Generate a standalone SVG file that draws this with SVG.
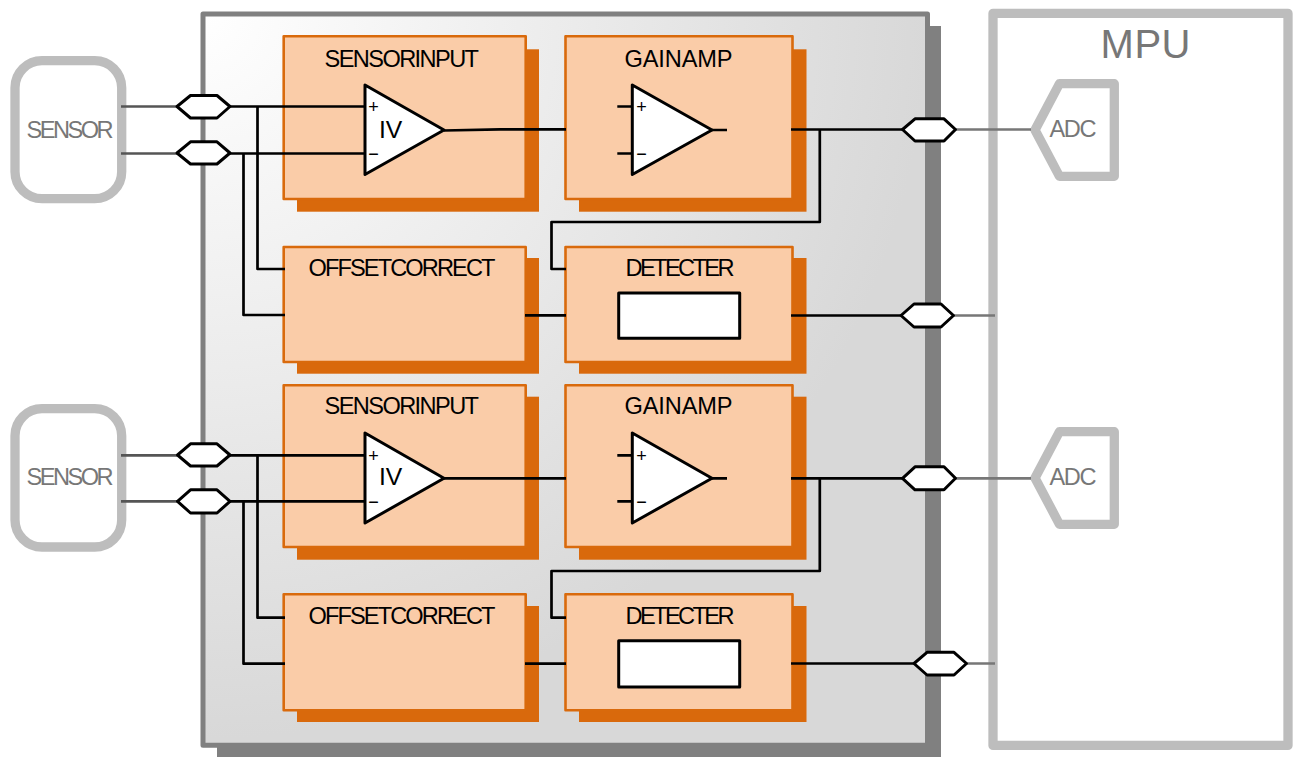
<svg xmlns="http://www.w3.org/2000/svg" width="1301" height="768" viewBox="0 0 1301 768">
<style>
text{font-family:"Liberation Sans",Arial,sans-serif;font-size:23.6px;fill:#000;text-anchor:start}
.g{fill:#777}
.big{font-size:40px;fill:#777}
.iv{font-size:24.7px}
.sign{font-size:18px;text-anchor:middle}
.blk{fill:#FACCA8;stroke:#D96A0C;stroke-width:2.6;stroke-linejoin:round}
.sh{fill:#D9690C}
.gb{fill:none;stroke:#BDBDBD;stroke-width:9.300;stroke-linejoin:round}
.w{fill:none;stroke:#000;stroke-width:2.700;stroke-linejoin:round}
.gw{fill:none;stroke:#777;stroke-width:2.700}
.dw{fill:none;stroke:#555;stroke-width:2.700}
.sym{fill:#fff;stroke:#000;stroke-width:3;stroke-linejoin:round}
</style>
<defs>
<radialGradient id="bg" gradientUnits="userSpaceOnUse" cx="203" cy="14" r="725">
<stop offset="0" stop-color="#ffffff"/><stop offset="1" stop-color="#D8D8D8"/>
</radialGradient>
</defs>

<g id="chip">
<rect x="217" y="26" width="724" height="731" fill="#808080"/>
<rect x="203" y="14" width="724.5" height="731.3" fill="url(#bg)" stroke="#808080" stroke-width="5" stroke-linejoin="round"/>
</g>

<g id="mpu">
<rect class="gb" x="993" y="13.400" width="295" height="732"/>
<text class="big" x="1100.500" y="57.500" textLength="90">MPU</text>
</g>

<g id="sensor1">
<rect class="gb" x="15" y="60.700" width="106.700" height="138" rx="27"/>
<text class="g" x="26.500" y="137.500" textLength="87">SENSOR</text>
</g>
<g id="sensor2">
<rect class="gb" x="15" y="408.700" width="106.700" height="138.300" rx="27"/>
<text class="g" x="26.500" y="484.500" textLength="87">SENSOR</text>
</g>

<g id="adc1">
<path class="gb" d="M1114.300 83.700H1059.500L1035 130L1059.500 176.300H1114.300Z"/>
<text class="g" x="1049.500" y="137.300" textLength="47">ADC</text>
</g>
<g id="adc2">
<path class="gb" d="M1114.300 431.700H1059.500L1035 478L1059.500 524.300H1114.300Z"/>
<text class="g" x="1049.500" y="484.500" textLength="47">ADC</text>
</g>

<g id="sensor-input1">
<rect class="sh" x="297" y="49.300" width="242" height="162.400"/>
<rect class="blk" x="283.700" y="36.200" width="242" height="162.800"/>
<text x="324.500" y="67.300" textLength="154.500">SENSORINPUT</text>
</g>
<g id="gain-amp1">
<rect class="sh" x="579" y="49.300" width="227.500" height="162.400"/>
<rect class="blk" x="565.500" y="36.200" width="227" height="162.800"/>
<text x="624.500" y="67.300" textLength="108">GAINAMP</text>
</g>
<g id="offset1">
<rect class="sh" x="297" y="258" width="242" height="115.700"/>
<rect class="blk" x="283.700" y="247" width="242" height="115"/>
<text x="308.500" y="275.500" textLength="187">OFFSETCORRECT</text>
</g>
<g id="detecter1">
<rect class="sh" x="579" y="258" width="227.500" height="115.700"/>
<rect class="blk" x="565.500" y="247" width="227" height="115"/>
<text x="625.500" y="275.500" textLength="109">DETECTER</text>
<rect class="sym" x="618.700" y="292.900" width="121" height="45.300"/>
</g>

<g id="sensor-input2">
<rect class="sh" x="297" y="396.700" width="242" height="163"/>
<rect class="blk" x="283.700" y="385.300" width="242" height="161.700"/>
<text x="324.500" y="414.300" textLength="154.500">SENSORINPUT</text>
</g>
<g id="gain-amp2">
<rect class="sh" x="579" y="396.700" width="227.500" height="163"/>
<rect class="blk" x="565.500" y="385.300" width="227" height="161.700"/>
<text x="624.500" y="414.300" textLength="108">GAINAMP</text>
</g>
<g id="offset2">
<rect class="sh" x="297" y="606" width="242" height="116"/>
<rect class="blk" x="283.700" y="594.300" width="242" height="116"/>
<text x="308.500" y="623.500" textLength="187">OFFSETCORRECT</text>
</g>
<g id="detecter2">
<rect class="sh" x="579" y="606" width="227.500" height="116"/>
<rect class="blk" x="565.500" y="594.300" width="227" height="116"/>
<text x="625.500" y="623.500" textLength="109">DETECTER</text>
<rect class="sym" x="618.700" y="640.700" width="121" height="46.300"/>
</g>

<g id="connectors">
<path class="dw" d="M121 106.500H177M121 153.500H177M121 455.300H177M121 501.300H177"/>
<path class="gw" d="M955 129.500H1031M953 315.500H995M955 478.300H1031M966 663.500H995"/>
<path class="w" d="M230 106.500H365M230 153.500H365M257.500 106.500V269H285M243.500 153.500V315H285"/>
<path class="w" d="M444 130.500L500 129.300H566M525 315.300H566"/>
<path class="w" d="M791 129.500H903M819.800 129.500V222H551.500V269H566M791 315.500H901"/>
<path class="w" d="M230 455.300H365M230 501.300H365M257.500 455.300V617.700H285M243.500 501.300V663.700H285"/>
<path class="w" d="M444 478.300H566M525 663.700H566"/>
<path class="w" d="M791 478.300H903M819.800 478.300V571H551.500V617.700H566M791 663.500H914"/>
<path class="w" d="M617.300 106.500H632M617.300 153.500H632M712 130H727M617.300 455.300H632M617.300 501.300H632M712 478.300H727"/>
</g>

<g id="iv1">
<path class="sym" d="M365 85V174.500L444 130Z"/>
<text class="sign" x="373.500" y="112.700">+</text><text class="sign" x="373.500" y="159.500">−</text>
<text class="iv" x="379" y="137.700">IV</text>
</g>
<g id="amp1">
<path class="sym" d="M632.300 85V174.500L712 130Z"/>
<text class="sign" x="641.500" y="112.700">+</text><text class="sign" x="641.500" y="159.500">−</text>
</g>
<g id="iv2">
<path class="sym" d="M365 433V523L444 478.300Z"/>
<text class="sign" x="373.500" y="461.500">+</text><text class="sign" x="373.500" y="507.500">−</text>
<text class="iv" x="379" y="485">IV</text>
</g>
<g id="amp2">
<path class="sym" d="M632.300 433V523L712 478.300Z"/>
<text class="sign" x="641.500" y="461.500">+</text><text class="sign" x="641.500" y="507.500">−</text>
</g>

<g id="hex1"><path class="sym" d="M177 106.500L190.500 95.500H217L230 106.500L217 118H190.500Z"/></g>
<g id="hex2"><path class="sym" d="M177 153L190.500 141.800H217L230 153L217 164H190.500Z"/></g>
<g id="hex3"><path class="sym" d="M177.500 455L190.500 443.800H217L230 455L217 466H190.500Z"/></g>
<g id="hex4"><path class="sym" d="M177.500 501.300L190.500 489.800H217L230 501.300L217 513H190.500Z"/></g>
<g id="hex5"><path class="sym" d="M902.500 129.500L915 118.800H944L955.500 129.500L944 141H915Z"/></g>
<g id="hex6"><path class="sym" d="M901 315.500L914 304H941L953.500 315.500L941 327H914Z"/></g>
<g id="hex7"><path class="sym" d="M902.500 478.300L915 466.800H944L955.500 478.300L944 489.800H915Z"/></g>
<g id="hex8"><path class="sym" d="M914 663.500L927 652.300H954L966.500 663.500L954 675H927Z"/></g>
</svg>
